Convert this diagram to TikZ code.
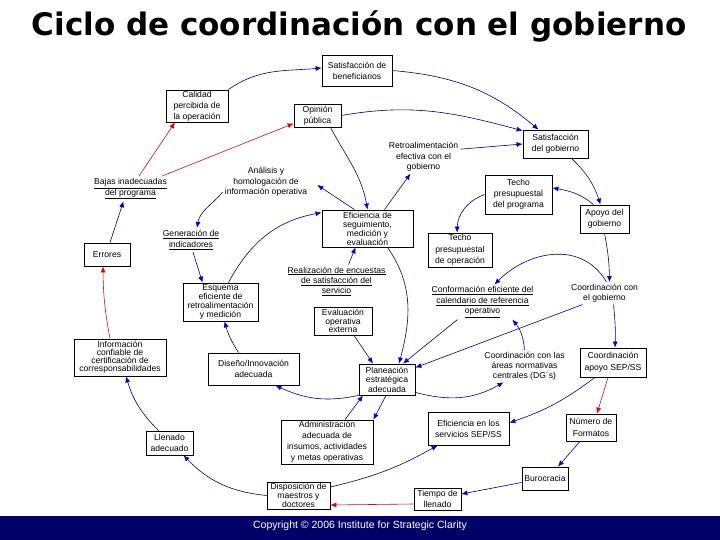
\documentclass[tikz,border=0pt]{standalone}
\usepackage{fontspec}
\setmainfont{Liberation Sans}
\newfontfamily\titlefont{DejaVu Sans}
\usetikzlibrary{arrows.meta}
\definecolor{lnblue}{RGB}{0,0,128}
\definecolor{tipblue}{RGB}{0,0,200}
\definecolor{lnred}{RGB}{190,20,30}
\definecolor{tipred}{RGB}{230,0,0}
\definecolor{navybar}{RGB}{0,0,102}
\newcommand\nodefs[1]{\fontsize{8.6}{#1}\selectfont}
\begin{document}
\begin{tikzpicture}[x=1pt,y=-1pt,
  box/.style={draw=black, line width=0.8pt, fill=white, align=center, inner sep=1pt, font=\nodefs{11}},
  txt/.style={align=center, inner sep=2pt, font=\nodefs{11}},
  bl/.style={draw=lnblue, line width=0.6pt, -{Latex[length=6pt,width=5pt,color=tipblue]}},
  rd/.style={draw=lnred, line width=0.6pt, -{Latex[length=6pt,width=5pt,color=tipred]}},
]
\useasboundingbox (0,0) rectangle (720,540);
\fill[navybar] (0,516) rectangle (720,540);
\node[font=\titlefont\bfseries\fontsize{31}{36}\selectfont, anchor=base, inner sep=0pt] (title) at (359,36) {Ciclo de coordinación con el gobierno};
\node[text=white, font=\fontsize{10.5}{12}\selectfont] (copy) at (360,526) {Copyright © 2006 Institute for Strategic Clarity};

% boxed nodes
\node[box, minimum width=70, minimum height=31] (sbenef) at (357,70.5) {Satisfacción de\\beneficiarios};
\node[box, minimum width=62, minimum height=32] (calidad) at (197,106) {Calidad\\percibida de\\la operación};
\node[box, minimum width=47, minimum height=23] (opinion) at (317.5,115.5) {Opinión\\pública};
\node[box, minimum width=65, minimum height=28] (sgob) at (555.5,144) {Satisfacción\\del gobierno};
\node[box, minimum width=67, minimum height=39] (techoprog) at (518.5,194.5) {Techo\\presupuestal\\del programa};
\node[box, minimum width=91, minimum height=37, font=\nodefs{9}] (efic) at (367.5,228.5) {Eficiencia de\\seguimiento,\\medición y\\evaluación};
\node[box, minimum width=49, minimum height=28] (apoyo) at (604.5,219) {Apoyo del\\gobierno};
\node[box, minimum width=46, minimum height=23] (errores) at (107,254.5) {Errores};
\node[box, minimum width=64, minimum height=34, font=\nodefs{11.5}] (techoop) at (460,250) {Techo\\presupuestal\\de operación};
\node[box, minimum width=75, minimum height=38, font=\nodefs{9.2}] (esquema) at (220.5,302) {Esquema\\eficiente de\\retroalimentación\\y medición};
\node[box, minimum width=58, minimum height=28, font=\nodefs{8.7}] (evaluacion) at (343,321) {Evaluación\\operativa\\externa};
\node[box, minimum width=92, minimum height=37, font=\nodefs{8}] (infoconf) at (120,357.5) {Información\\confiable de\\certificación de\\corresponsabilidades};
\node[box, minimum width=91, minimum height=32] (diseno) at (253.5,369) {Diseño/Innovación\\adecuada};
\node[box, minimum width=56, minimum height=31, font=\nodefs{9.5}] (planeacion) at (387,379.5) {Planeación\\estratégica\\adecuada};
\node[box, minimum width=66, minimum height=29, font=\nodefs{11.7}] (coordapoyo) at (613,362.5) {Coordinación\\apoyo SEP/SS};
\node[box, minimum width=50, minimum height=27, font=\nodefs{11.7}] (numero) at (591,427.5) {Número de\\Formatos};
\node[box, minimum width=81, minimum height=33] (eficserv) at (468.5,428.5) {Eficiencia en los\\servicios SEP/SS};
\node[box, minimum width=92, minimum height=44] (admin) at (327,442) {Administración\\adecuada de\\insumos, actividades\\y metas operativas};
\node[box, minimum width=47, minimum height=24] (llenado) at (169.5,443) {Llenado\\adecuado};
\node[box, minimum width=46, minimum height=23] (burocracia) at (545,478.5) {Burocracia};
\node[box, minimum width=63, minimum height=27, font=\nodefs{8.7}] (disposicion) at (298.5,495.5) {Disposición de\\maestros y\\doctores};
\node[box, minimum width=47, minimum height=22] (tiempo) at (437.5,499) {Tiempo de\\llenado};

% plain nodes
\node[txt, font=\nodefs{10.5}] (retro) at (423.5,157) {Retroalimentación\\efectiva con el\\gobierno};
\node[txt, font=\nodefs{10.7}] (bajas) at (130.5,188.7) {\underline{Bajas inadecuadas}\\\underline{del programa}};
\node[txt, font=\nodefs{10.3}] (analisis) at (266,182) {Análisis y\\homologación de\\información operativa};
\node[txt, font=\nodefs{11.4}] (generacion) at (191,240) {\underline{Generación de}\\\underline{indicadores}};
\node[txt, font=\nodefs{10.3}] (realizacion) at (336.5,281.3) {\underline{Realización de encuestas}\\\underline{de satisfacción del}\\\underline{servicio}};
\node[txt, font=\nodefs{10.3}] (conformacion) at (482.5,302) {\underline{Conformación eficiente del}\\\underline{calendario de referencia}\\\underline{operativo}};
\node[txt, font=\nodefs{10}] (coordgob) at (604.5,293.3) {Coordinación con\\el gobierno};
\node[txt, font=\nodefs{10}] (coordareas) at (524.5,366) {Coordinación con las\\áreas normativas\\centrales (DG´s)};

% connectors
\draw[rd] (bajas) -- ([xshift=-22pt]calidad.south);
\draw[rd] (bajas) -- ([yshift=-8pt]opinion.west);
\draw[bl] (calidad.north east) to[out=35,in=185] ([yshift=2.5pt]sbenef.west);
\draw[bl] (sbenef.east) to[out=-5,in=140] ([xshift=-17pt]sgob.north);
\draw[bl] (opinion.east) to[out=10,in=165] (sgob.158);
\draw[bl] (retro.12) -- (sgob.west);
\draw[bl] ([xshift=13pt]opinion.south) to[out=-62,in=100] (efic.north);
\draw[bl] ([xshift=-13pt]efic.north) -- ([xshift=8pt,yshift=-3pt]analisis.east);
\draw[bl] ([xshift=17pt]efic.north) -- (retro.232);
\draw[bl] ([yshift=-10pt]analisis.west) to[out=-130,in=80] ([xshift=6pt]generacion.north);
\draw[bl] ([xshift=2pt]generacion.south) -- ([xshift=-18pt]esquema.north);
\draw[bl] ([xshift=8pt]esquema.north) to[out=62,in=190] (efic.161);
\draw[bl] ([xshift=-15pt]diseno.north) to[bend left=8] ([xshift=4pt]esquema.south);
\draw[bl] (planeacion.south west) to[out=192,in=-25] ([xshift=22pt]diseno.south);
\draw[bl] ([xshift=12pt]realizacion.north) -- ([xshift=-12pt]efic.south);
\draw[bl] ([xshift=20pt]efic.south) to[out=-55,in=75] ([xshift=12pt]planeacion.north);
\draw[bl] ([xshift=11pt]evaluacion.south) -- ([xshift=-14pt]planeacion.north);
\draw[bl] ([xshift=-25pt]conformacion.south) -- ([xshift=16pt]planeacion.north);
\draw[bl] ([xshift=-22pt]coordgob.south) -- ([yshift=-4pt]planeacion.north east);
\draw[bl] (coordareas.north) to[bend right=17] ([xshift=30pt]conformacion.south);
\draw[bl] ([xshift=2pt]coordgob.north) to[out=120,in=45,looseness=1.1] ([xshift=12pt]conformacion.north);
\draw[bl] (apoyo.south) to[bend left=5] ([xshift=5pt]coordgob.north);
\draw[bl] ([xshift=9pt]coordgob.south) to[bend left=4] ([xshift=2pt]coordapoyo.north);
\draw[bl] ([xshift=16pt]sgob.south) to[bend left=14] ([xshift=-4pt]apoyo.north);
\draw[bl] ([xshift=-11pt]apoyo.north) to[out=140,in=-10] (techoprog.11);
\draw[bl] (techoprog.west) to[out=200,in=88] ([xshift=-3pt]techoop.north);
\draw[rd] ([xshift=-5pt]coordapoyo.south) -- ([xshift=6pt]numero.north);
\draw[bl] ([xshift=-18pt]coordapoyo.south) to[bend left=9] (eficserv.8);
\draw[bl] ([xshift=-11pt]numero.south) -- ([xshift=13pt]burocracia.north);
\draw[bl] ([yshift=-4pt]burocracia.west) -- ([yshift=5pt]tiempo.east);
\draw[rd] ([yshift=-5pt]tiempo.west) -- ([yshift=-9.5pt]disposicion.east);
\draw[bl] ([yshift=8.5pt]disposicion.east) to[bend right=8] ([xshift=10pt]eficserv.south west);
\draw[bl] (disposicion.west) to[bend left=20] ([xshift=14pt]llenado.south);
\draw[bl] ([xshift=-11pt]llenado.north) to[bend left=14] ([xshift=6pt]infoconf.south);
\draw[rd] ([xshift=-10pt]infoconf.north) to[bend left=5] ([xshift=-4pt]errores.south);
\draw[bl] ([xshift=3pt]errores.north) -- ([xshift=-7pt]bajas.south);
\draw[bl] ([xshift=-1pt]planeacion.south) -- (admin.north east);
\draw[bl] ([xshift=18pt]admin.north) -- ([xshift=-24pt]planeacion.south);
\draw[bl] ([yshift=3pt]planeacion.south east) to[out=-15,in=210] ([xshift=-21pt]coordareas.south);
\end{tikzpicture}
\end{document}
